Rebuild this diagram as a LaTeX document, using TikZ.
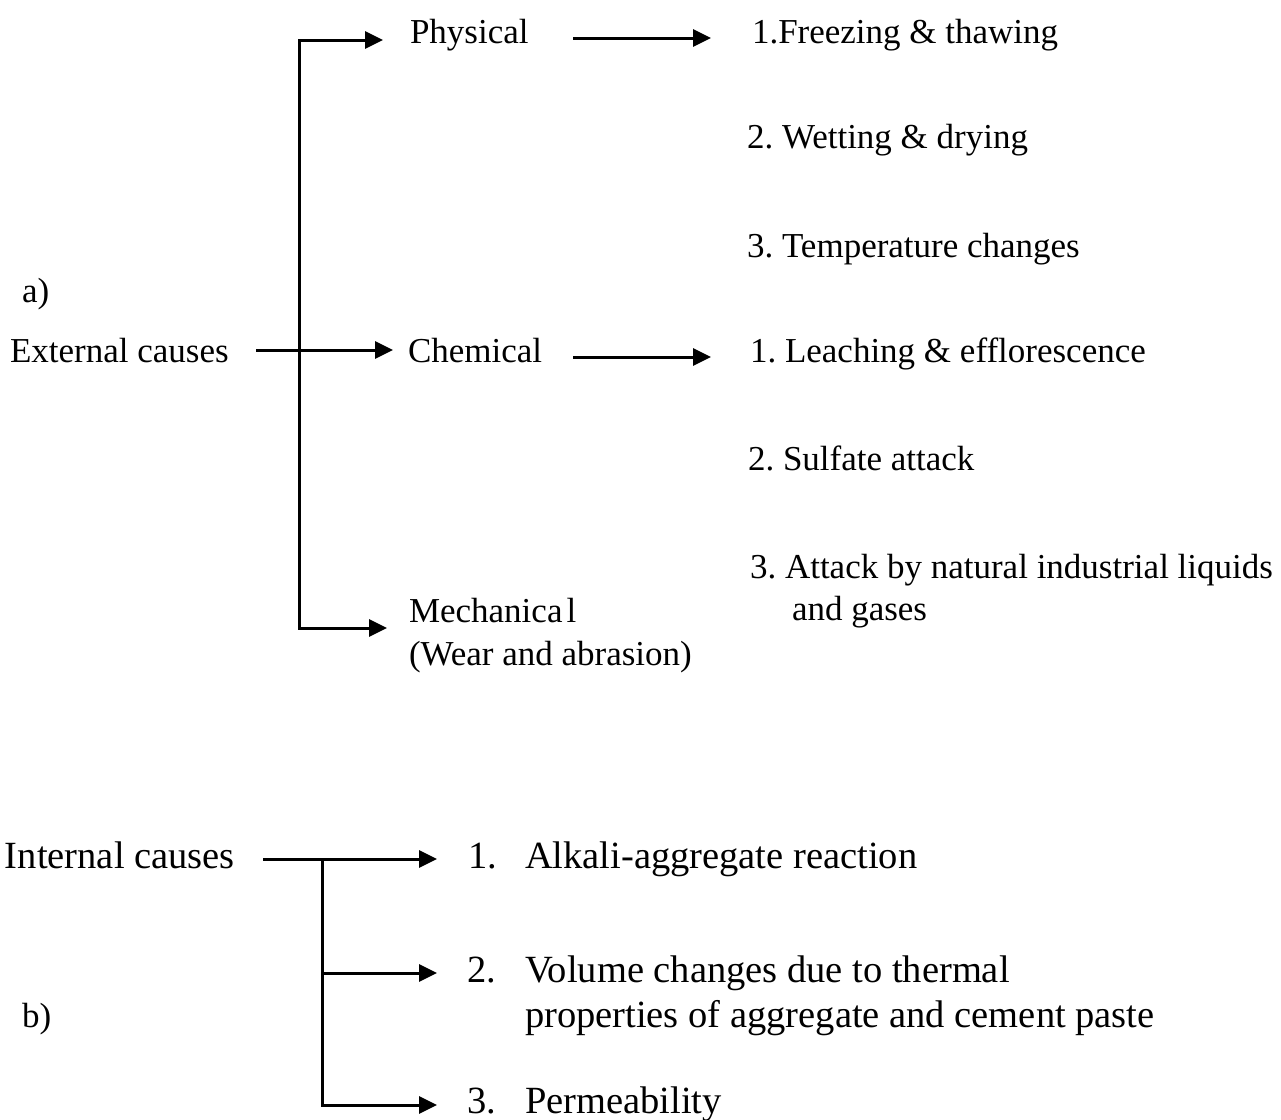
\documentclass[tikz,border=0pt]{standalone}
\usepackage{fontspec}
\setmainfont{Liberation Serif}
\usetikzlibrary{arrows.meta}
\begin{document}
\frenchspacing
\begin{tikzpicture}[x=1pt,y=-1pt,
  lbl/.style={anchor=base west,inner sep=0pt,outer sep=0pt,font=\fontsize{35}{42}\selectfont},
  lblb/.style={lbl,font=\fontsize{38.5}{46}\selectfont},
  conn/.style={line width=3pt},
  arr/.style={conn,-{Triangle[length=18pt,width=17pt]}}]
\useasboundingbox (0,0) rectangle (1281,1119);
% labels a)
\node[lbl] (la) at (22,302) {a)};
\node[lbl] (ext) at (10,362) {External causes};
\node[lbl] (phys) at (410,43) {Physical};
\node[lbl] (chem) at (408,362) {Chemical};
\node[lbl] (mech) at (409,622) {Mechanica\kern4pt l};
\node[lbl] (mech2) at (409,665) {(Wear and abrasion)};
\node[lbl] (p1) at (752,43) {1.Freezing \& thawing};
\node[lbl] (p2) at (747,148) {2. Wetting \& drying};
\node[lbl] (p3) at (747,257) {3. Temperature changes};
\node[lbl] (c1) at (750,362) {1. Leaching \& efflorescence};
\node[lbl] (c2) at (748,470) {2. Sulfate attack};
\node[lbl] (c3) at (750,578) {3. Attack by natural industrial liquids};
\node[lbl] (c3b) at (792,620) {and gases};
% labels b)
\node[lbl] (lb) at (22,1027) {b)};
\node[lblb] (int) at (5,868) {Internal causes};
\node[lblb] (n1) at (468,868) {1.};
\node[lblb] (i1) at (525,868) {Alkali-aggregate reaction};
\node[lblb] (n2) at (467,982) {2.};
\node[lblb] (i2) at (525,982) {Volume changes due to thermal};
\node[lblb] (i2b) at (525,1027) {properties of aggregate and cement paste};
\node[lblb] (n3) at (467,1113) {3.};
\node[lblb] (i3) at (525,1113) {Permeability};
% coordinates a)
\coordinate (es) at (256,350);
\coordinate (ej) at (299.5,350);
\coordinate (et) at (393,350);
\coordinate (vt) at (299.5,40);
\coordinate (vb) at (299.5,628);
\coordinate (pt) at (383,40);
\coordinate (mt) at (387,628);
\coordinate (ps) at (573,38);
\coordinate (pe) at (711,38);
\coordinate (cs) at (573,357);
\coordinate (ce) at (711,357);
% coordinates b)
\coordinate (is) at (263,859);
\coordinate (ij) at (322,859);
\coordinate (ib) at (322,1105);
\coordinate (im) at (322,973);
\coordinate (t1) at (437,859);
\coordinate (t2) at (437,973);
\coordinate (t3) at (437,1105);
% connectors a)
\draw[arr] (es) -- (et);
\draw[arr] (vb) -- (vt) -- (pt);
\draw[arr] (ej) |- (mt);
\draw[arr] (ps) -- (pe);
\draw[arr] (cs) -- (ce);
% connectors b)
\draw[arr] (is) -- (t1);
\draw[arr] (ij) -- (ib) -- (t3);
\draw[arr] (im) -- (t2);
\end{tikzpicture}
\end{document}
